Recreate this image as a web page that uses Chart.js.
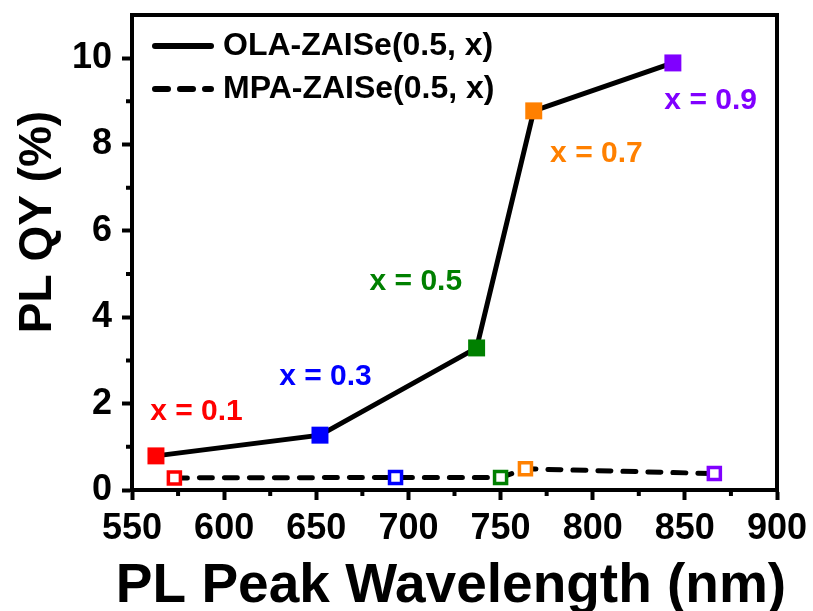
<!DOCTYPE html>
<html>
<head>
<meta charset="utf-8">
<script src="https://cdn.jsdelivr.net/npm/chart.js@4.4.1/dist/chart.umd.min.js"></script>
<style>
  html, body { margin: 0; padding: 0; background: #fff; }
  #wrap { width: 813px; height: 611px; position: relative; }
</style>
</head>
<body>
<div id="wrap"><canvas id="plqy" width="813" height="611"></canvas></div>
<script>
// data
const seriesNames = ['OLA-ZAISe(0.5, x)', 'MPA-ZAISe(0.5, x)'];
const compositions = ['x = 0.1', 'x = 0.3', 'x = 0.5', 'x = 0.7', 'x = 0.9'];
const pointColors = ['#ff0000', '#0000ff', '#008000', '#ff8000', '#8000ff'];
const olaWavelength = [563, 652, 737, 768, 843.5];
const olaQY = [0.79, 1.27, 3.29, 8.78, 9.89];
const mpaWavelength = [573, 693, 750, 763.5, 866];
const mpaQY = [0.28, 0.29, 0.29, 0.49, 0.38];
// where the "x = ..." labels sit, in data units
const labelWavelength = [585, 655, 704, 802, 864];
const labelQY = [1.81, 2.62, 4.82, 7.78, 9.01];

const FONT = '"Liberation Sans", Arial, sans-serif';

function toPoints(xs, ys) {
  return xs.map((x, i) => ({ x: x, y: ys[i] }));
}

// frame, minor ticks, legend, composition labels, axis titles
const decorations = {
  id: 'decorations',
  afterDraw(chart) {
    const ctx = chart.ctx;
    const area = chart.chartArea;
    const xs = chart.scales.x;
    const ys = chart.scales.y;
    ctx.save();

    // top and right side of the box
    ctx.strokeStyle = '#000';
    ctx.lineWidth = 4;
    ctx.beginPath();
    ctx.moveTo(area.left - 2, area.top);
    ctx.lineTo(area.right, area.top);
    ctx.lineTo(area.right, area.bottom + 2);
    ctx.stroke();

    // minor ticks
    ctx.lineWidth = 4;
    ctx.beginPath();
    for (let v = 575; v < 900; v += 50) {
      const px = xs.getPixelForValue(v);
      ctx.moveTo(px, area.bottom);
      ctx.lineTo(px, area.bottom + 6);
    }
    for (let v = 1; v < 11; v += 2) {
      const py = ys.getPixelForValue(v);
      ctx.moveTo(area.left, py);
      ctx.lineTo(area.left - 6, py);
    }
    ctx.stroke();

    // legend
    const legendY = [46, 89];
    const dashes = [[], [13, 12]];
    ctx.lineCap = 'round';
    legendY.forEach((ly, i) => {
      ctx.lineWidth = 6;
      ctx.setLineDash(dashes[i]);
      ctx.beginPath();
      ctx.moveTo(155, ly);
      ctx.lineTo(211, ly);
      ctx.stroke();
      ctx.setLineDash([]);
      ctx.fillStyle = '#000';
      ctx.font = 'bold 32px ' + FONT;
      ctx.textAlign = 'left';
      ctx.textBaseline = 'middle';
      ctx.fillText(seriesNames[i], 223, ly);
    });

    // composition labels
    ctx.font = 'bold 30px ' + FONT;
    ctx.textAlign = 'center';
    ctx.textBaseline = 'middle';
    compositions.forEach((txt, i) => {
      ctx.fillStyle = pointColors[i];
      ctx.fillText(txt, xs.getPixelForValue(labelWavelength[i]), ys.getPixelForValue(labelQY[i]));
    });

    // x axis title
    ctx.fillStyle = '#000';
    ctx.font = 'bold 55px ' + FONT;
    ctx.textBaseline = 'alphabetic';
    ctx.fillText('PL Peak Wavelength (nm)', 451, 602);

    // y axis title
    ctx.font = 'bold 46px ' + FONT;
    ctx.textBaseline = 'middle';
    ctx.translate(38, 222);
    ctx.rotate(-Math.PI / 2);
    ctx.fillText('PL QY (%)', 0, 0);

    ctx.restore();
  }
};

new Chart(document.getElementById('plqy'), {
  type: 'scatter',
  data: {
    datasets: [
      {
        label: seriesNames[0],
        data: toPoints(olaWavelength, olaQY),
        showLine: true,
        borderColor: '#000',
        borderWidth: 5,
        pointStyle: 'rect',
        pointRadius: 12,
        pointBorderWidth: 0,
        pointBackgroundColor: pointColors,
        pointBorderColor: pointColors
      },
      {
        label: seriesNames[1],
        data: toPoints(mpaWavelength, mpaQY),
        showLine: true,
        borderColor: '#000',
        borderWidth: 5,
        borderDash: [13, 12],
        borderCapStyle: 'round',
        pointStyle: 'rect',
        pointRadius: 8.5,
        pointBorderWidth: 3.5,
        pointBackgroundColor: '#fff',
        pointBorderColor: pointColors
      }
    ]
  },
  options: {
    responsive: false,
    animation: false,
    layout: { padding: { left: 0, right: 36, top: 15, bottom: 0 } },
    plugins: {
      legend: { display: false },
      tooltip: { enabled: false }
    },
    scales: {
      x: {
        type: 'linear',
        min: 550,
        max: 900,
        afterFit: scale => {
          scale.height = 121;
          scale.paddingLeft = 0;
          scale.paddingRight = 0;
        },
        ticks: {
          stepSize: 50,
          color: '#000',
          padding: 7,
          font: { family: FONT, size: 36, weight: 'bold' }
        },
        grid: { display: true, drawOnChartArea: false, tickLength: 10, tickWidth: 4, tickColor: '#000' },
        border: { display: true, color: '#000', width: 4 }
      },
      y: {
        min: 0,
        max: 11,
        afterFit: scale => {
          scale.width = 132;
          scale.paddingTop = 0;
          scale.paddingBottom = 0;
        },
        afterBuildTicks: scale => {
          scale.ticks = [0, 2, 4, 6, 8, 10].map(v => ({ value: v }));
        },
        ticks: {
          color: '#000',
          padding: 10,
          font: { family: FONT, size: 36, weight: 'bold' }
        },
        grid: { display: true, drawOnChartArea: false, tickLength: 10, tickWidth: 4, tickColor: '#000' },
        border: { display: true, color: '#000', width: 4 }
      }
    }
  },
  plugins: [decorations]
});
</script>
</body>
</html>
